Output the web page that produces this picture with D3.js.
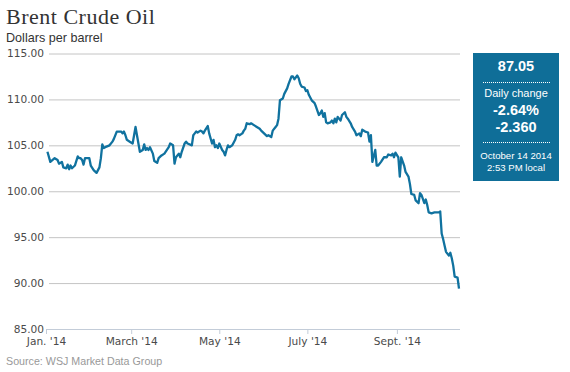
<!DOCTYPE html>
<html lang="en">

<head>
    <meta http-equiv="Content-Type" content="text/html;charset=utf-8" />
    <title>Brent Crude Oil</title>
    <script src="https://cdnjs.cloudflare.com/ajax/libs/d3/7.8.5/d3.min.js"></script>
    <style type="text/css">
        body {
            margin: 0;
            background: #fff;
        }
    </style>
</head>

<body>
    <div id="chart"></div>
</body>

<script type="text/javascript">

    // Daily closes
    var dates = [
        "2014-01-02", "2014-01-04", "2014-01-07", "2014-01-09", "2014-01-10", "2014-01-12", "2014-01-13",
        "2014-01-15", "2014-01-16", "2014-01-17", "2014-01-18", "2014-01-19", "2014-01-21", "2014-01-23",
        "2014-01-24", "2014-01-25", "2014-01-26", "2014-01-27", "2014-01-28", "2014-01-31", "2014-02-01",
        "2014-02-03", "2014-02-05", "2014-02-07", "2014-02-08", "2014-02-09", "2014-02-10", "2014-02-11",
        "2014-02-14", "2014-02-16", "2014-02-17", "2014-02-19", "2014-02-22", "2014-02-23", "2014-02-24",
        "2014-02-25", "2014-02-26", "2014-02-28", "2014-03-02", "2014-03-03", "2014-03-04", "2014-03-05",
        "2014-03-07", "2014-03-09", "2014-03-10", "2014-03-11", "2014-03-12", "2014-03-13", "2014-03-14",
        "2014-03-16", "2014-03-17", "2014-03-19", "2014-03-20", "2014-03-22", "2014-03-24", "2014-03-27",
        "2014-03-28", "2014-03-30", "2014-03-31", "2014-04-01", "2014-04-03", "2014-04-04", "2014-04-05",
        "2014-04-07", "2014-04-08", "2014-04-09", "2014-04-12", "2014-04-13", "2014-04-14", "2014-04-15",
        "2014-04-16", "2014-04-18", "2014-04-19", "2014-04-20", "2014-04-21", "2014-04-23", "2014-04-24",
        "2014-04-26", "2014-04-27", "2014-04-28", "2014-04-29", "2014-04-30", "2014-05-01", "2014-05-03",
        "2014-05-04", "2014-05-05", "2014-05-06", "2014-05-07", "2014-05-08", "2014-05-10", "2014-05-12",
        "2014-05-13", "2014-05-14", "2014-05-15", "2014-05-17", "2014-05-18", "2014-05-19", "2014-05-20",
        "2014-05-22", "2014-05-23", "2014-05-25", "2014-05-27", "2014-05-29", "2014-05-30", "2014-06-01",
        "2014-06-03", "2014-06-04", "2014-06-06", "2014-06-07", "2014-06-09", "2014-06-10", "2014-06-11",
        "2014-06-12", "2014-06-14", "2014-06-15", "2014-06-17", "2014-06-18", "2014-06-20", "2014-06-21",
        "2014-06-22", "2014-06-24", "2014-06-25", "2014-06-26", "2014-06-27", "2014-06-29", "2014-06-30",
        "2014-07-01", "2014-07-02", "2014-07-04", "2014-07-06", "2014-07-07", "2014-07-09", "2014-07-10",
        "2014-07-11", "2014-07-12", "2014-07-13", "2014-07-14", "2014-07-15", "2014-07-17", "2014-07-18",
        "2014-07-19", "2014-07-20", "2014-07-21", "2014-07-22", "2014-07-24", "2014-07-25", "2014-07-27",
        "2014-07-28", "2014-07-29", "2014-07-31", "2014-08-01", "2014-08-03", "2014-08-04", "2014-08-06",
        "2014-08-07", "2014-08-08", "2014-08-10", "2014-08-12", "2014-08-13", "2014-08-14", "2014-08-15",
        "2014-08-17", "2014-08-18", "2014-08-19", "2014-08-21", "2014-08-23", "2014-08-25", "2014-08-26",
        "2014-08-28", "2014-08-29", "2014-08-30", "2014-08-31", "2014-09-02", "2014-09-03", "2014-09-04",
        "2014-09-06", "2014-09-07", "2014-09-09", "2014-09-10", "2014-09-11", "2014-09-13", "2014-09-14",
        "2014-09-16", "2014-09-17", "2014-09-18", "2014-09-20", "2014-09-21", "2014-09-22", "2014-09-23",
        "2014-09-25", "2014-09-27", "2014-09-30", "2014-10-01", "2014-10-02", "2014-10-03", "2014-10-04",
        "2014-10-05", "2014-10-07", "2014-10-08", "2014-10-09", "2014-10-10", "2014-10-11", "2014-10-13",
        "2014-10-14"
    ];

    var prices = [
        104.3, 103.2, 103.6, 103.4, 103.0, 103.2, 102.6,
        102.5, 102.9, 102.4, 102.8, 102.5, 102.8, 103.8,
        103.6, 103.6, 103.4, 102.9, 103.6, 103.6, 102.8,
        102.3, 102.0, 102.6, 103.6, 105.1, 104.7, 104.8,
        105.0, 105.4, 105.7, 106.5, 106.5, 106.3, 106.5,
        106.1, 105.6, 105.4, 105.2, 106.1, 107.0, 106.1,
        104.3, 104.5, 105.1, 104.5, 104.7, 104.5, 104.8,
        104.1, 103.3, 103.1, 103.6, 103.9, 104.1, 104.8,
        105.2, 105.0, 103.0, 103.7, 104.1, 103.7, 104.3,
        105.2, 105.4, 105.2, 105.0, 106.1, 106.3, 106.5,
        106.4, 106.6, 106.5, 106.3, 106.6, 107.1, 106.3,
        105.2, 105.6, 104.8, 105.0, 104.7, 105.2, 104.5,
        104.3, 103.9, 104.5, 105.0, 104.8, 105.0, 105.6,
        106.1, 106.2, 106.1, 106.3, 106.6, 106.8, 107.4,
        107.3, 107.4, 107.2, 107.0, 106.8, 106.6, 106.3,
        106.0, 106.1, 105.9, 106.6, 107.0, 107.2, 107.9,
        109.9, 110.1, 110.6, 111.2, 111.7, 112.5, 112.5,
        112.2, 112.6, 112.3, 111.7, 111.4, 111.3, 110.9,
        111.0, 110.5, 109.9, 109.6, 109.2, 108.3, 108.5,
        108.8, 108.1, 108.5, 107.5, 107.4, 107.5, 107.7,
        107.4, 107.9, 107.5, 108.1, 107.7, 108.3, 108.6,
        108.1, 107.9, 107.4, 107.0, 106.5, 106.1, 106.3,
        106.0, 106.7, 106.5, 106.4, 105.4, 106.1, 103.2,
        104.5, 102.8, 102.8, 103.2, 103.7, 103.7, 104.0,
        103.9, 104.1, 103.7, 104.2, 103.7, 101.6, 103.7,
        102.8, 102.1, 101.6, 100.8, 99.7, 99.6, 99.0,
        98.7, 99.8, 99.6, 98.7, 99.1, 98.5, 97.7,
        97.6, 97.7, 97.7, 97.8, 95.4, 94.8, 94.1,
        93.4, 93.0, 93.3, 92.7, 91.9, 90.7, 90.6,
        89.4
    ];

    var yTicks = [85, 90, 95, 100, 105, 110, 115];
    var xTickDates = ["2014-01-01", "2014-03-01", "2014-05-01", "2014-07-01", "2014-09-01"];
    var xTickLabels = ["Jan. '14", "March '14", "May '14", "July '14", "Sept. '14"];

    var boxLines = ["87.05", "Daily change", "-2.64%", "-2.360", "October 14 2014", "2:53 PM local"];

    var w = 570;
    var h = 372;
    var parse = d3.timeParse("%Y-%m-%d");
    var lineColor = "#10729f";

    var data = dates.map(function (d, i) { return [parse(d), prices[i]]; });

    var svg = d3.select("#chart")
        .append("svg")
        .attr("width", w)
        .attr("height", h);

    var x = d3.scaleTime()
        .domain([parse("2014-01-01"), parse("2014-10-14")])
        .range([46, 459]);
    var y = d3.scaleLinear().domain([85, 115]).range([329, 53.5]);

    // Title and subtitle
    svg.append("text")
        .attr("x", 6).attr("y", 24)
        .style("font-family", "'Liberation Serif', serif")
        .style("font-size", "22px")
        .style("letter-spacing", "0.5px")
        .attr("fill", "#333")
        .text("Brent Crude Oil");

    svg.append("text")
        .attr("x", 6).attr("y", 42)
        .style("font-family", "'Liberation Sans', Arial, sans-serif")
        .style("font-size", "12.6px")
        .attr("fill", "#333")
        .text("Dollars per barrel");

    // Horizontal grid with labels
    var yAxis = d3.axisLeft(y)
        .tickValues(yTicks)
        .tickSize(-(460 - 49))
        .tickPadding(5)
        .tickFormat(d3.format(".2f"));

    var gy = svg.append("g")
        .attr("transform", "translate(49,0)")
        .call(yAxis);
    gy.select(".domain").remove();
    gy.selectAll(".tick line").attr("stroke", "#c4c4c4");
    gy.selectAll(".tick text")
        .attr("fill", "#4a4a4a")
        .attr("x", -5)
        .style("font-family", "'DejaVu Sans', Verdana, sans-serif")
        .style("font-size", "10.6px");
    gy.selectAll(".tick").filter(function (d) { return d === 85; }).select("line").remove();

    // Bottom axis
    var xAxis = d3.axisBottom(x)
        .tickValues(xTickDates.map(parse))
        .tickSize(5)
        .tickPadding(3)
        .tickFormat(function (d, i) { return xTickLabels[i]; });

    var gx = svg.append("g")
        .attr("transform", "translate(0," + y(85) + ")")
        .call(xAxis);
    gx.select(".domain")
        .attr("d", "M46,0.5H460")
        .attr("stroke", "#c3ccd8");
    gx.selectAll(".tick line").attr("stroke", "#c3ccd8");
    gx.selectAll(".tick text")
        .attr("fill", "#4a4a4a")
        .style("font-family", "'DejaVu Sans', Verdana, sans-serif")
        .style("font-size", "10.6px");

    // Price line
    var line = d3.line()
        .x(function (d) { return x(d[0]); })
        .y(function (d) { return y(d[1]); });

    svg.append("path")
        .attr("d", line(data))
        .attr("fill", "none")
        .attr("stroke", lineColor)
        .attr("stroke-width", 2.3)
        .attr("stroke-linejoin", "round");

    // Quote box
    var box = svg.append("g").attr("transform", "translate(473,53)");
    box.append("rect")
        .attr("width", 86).attr("height", 128)
        .attr("fill", "#0f6e98");

    var cx = 43;
    var boxText = [
        { t: boxLines[0], y: 18, size: 14.5, bold: true },
        { t: boxLines[1], y: 44, size: 11, bold: false },
        { t: boxLines[2], y: 61.5, size: 14.5, bold: true },
        { t: boxLines[3], y: 79, size: 14.5, bold: true },
        { t: boxLines[4], y: 105.5, size: 9.6, bold: false },
        { t: boxLines[5], y: 117.5, size: 9.6, bold: false }
    ];
    box.selectAll("text.q")
        .data(boxText)
        .enter().append("text")
        .attr("class", "q")
        .attr("x", cx)
        .attr("y", function (d) { return d.y; })
        .attr("text-anchor", "middle")
        .attr("fill", "#fff")
        .style("font-family", "'Liberation Sans', Arial, sans-serif")
        .style("font-size", function (d) { return d.size + "px"; })
        .style("font-weight", function (d) { return d.bold ? "bold" : "normal"; })
        .text(function (d) { return d.t; });

    [29, 89].forEach(function (yy) {
        box.append("line")
            .attr("x1", 10).attr("x2", 77)
            .attr("y1", yy + 0.5).attr("y2", yy + 0.5)
            .attr("stroke", "#fff")
            .attr("stroke-width", 1)
            .attr("stroke-dasharray", "1,1");
    });

    // Source
    svg.append("text")
        .attr("x", 6).attr("y", 365)
        .style("font-family", "'Liberation Sans', Arial, sans-serif")
        .style("font-size", "10.7px")
        .attr("fill", "#999")
        .text("Source: WSJ Market Data Group");

</script>

</html>
